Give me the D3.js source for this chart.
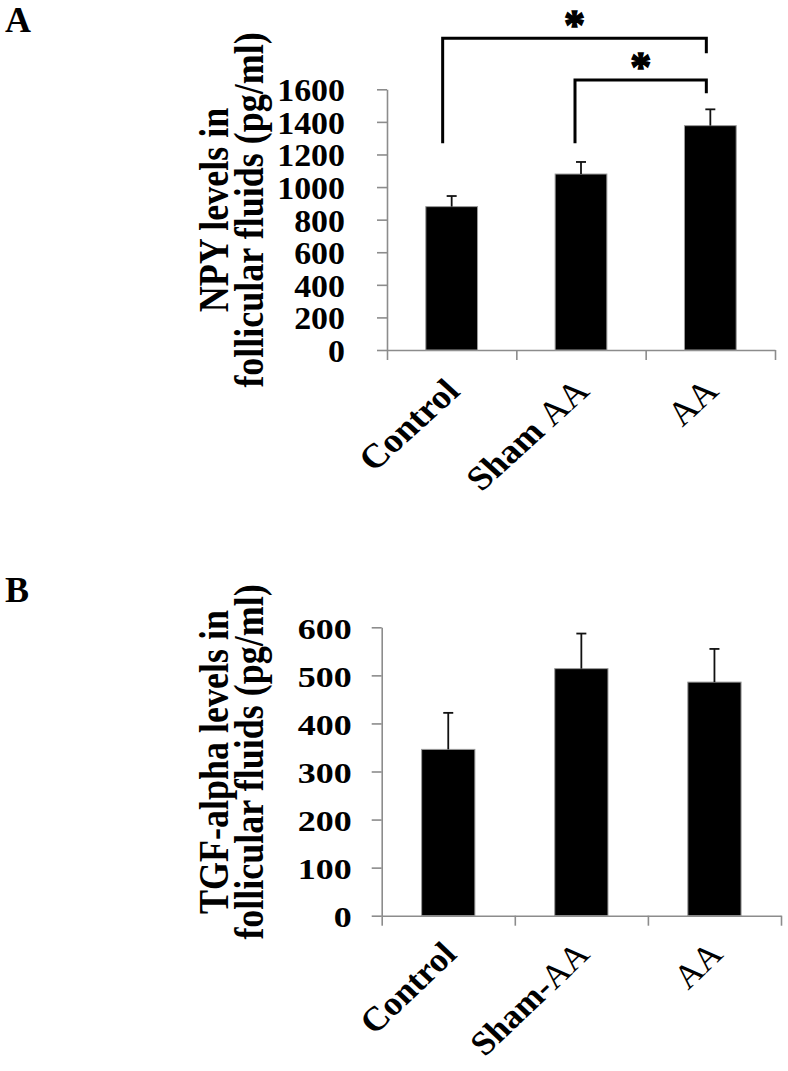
<!DOCTYPE html>
<html>
<head>
<meta charset="utf-8">
<script src="https://cdn.jsdelivr.net/npm/d3@7"></script>
<style>
  body { margin: 0; background: #fff; }
  text { font-family: "Liberation Serif", "Times New Roman", serif; font-weight: bold; fill: #000; }
</style>
</head>
<body>
<svg></svg>
<script>
// ---- data ----
const groupsA = ['Control', 'Sham AA', 'AA']
const npyMean = [880, 1080, 1377]
const npyErr = [65, 74, 100]
const npyTicks = [0, 200, 400, 600, 800, 1000, 1200, 1400, 1600]
const npyTitle = ['NPY levels in', 'follicular fluids (pg/ml)']
// significance brackets: [from group, to group, top value, left end value, right end value]
const npyBrackets = [
    [0, 2, 1913, 1269, 1821],
    [1, 2, 1657, 1269, 1575]
]

const groupsB = ['Control', 'Sham-AA', 'AA']
const tgfMean = [346, 514, 486]
const tgfErr = [76, 73, 69]
const tgfTicks = [0, 100, 200, 300, 400, 500, 600]
const tgfTitle = ['TGF-alpha levels in', 'follicular fluids (pg/ml)']

const svg = d3.select('svg').attr('width', 788).attr('height', 1071)

function drawPanel(p) {
    const g = svg.append('g')

    const x = d3.scaleBand().domain(p.groups).range([p.left, p.right]).paddingInner(0.6).paddingOuter(0.3)
    const xEdge = d3.scaleLinear().domain([0, p.groups.length]).range([p.left, p.right])
    const y = d3.scaleLinear().domain([0, p.max]).range([p.bottom, p.top])

    // y axis
    const ya = g.append('g')
        .attr('transform', `translate(${p.left},0)`)
        .call(d3.axisLeft(y).tickValues(p.ticks).tickSize(10).tickSizeOuter(0).tickFormat(d3.format('d')))
    ya.select('.domain').attr('stroke', '#8c8c8c').attr('stroke-width', 1.6)
    ya.selectAll('.tick line').attr('stroke', '#8c8c8c').attr('stroke-width', 1.6)
    ya.selectAll('.tick text')
        .attr('x', null)
        .attr('dy', '0.36em')
        .attr('text-anchor', 'end')
        .attr('font-size', p.tickFont)
        .attr('transform', `translate(${-p.labelGap},0) scale(${p.sx},1)`)

    // x axis: ticks sit on the group boundaries
    const xa = g.append('g')
        .attr('transform', `translate(0,${p.bottom})`)
        .call(d3.axisBottom(xEdge).tickValues(d3.range(p.groups.length + 1)).tickSize(10).tickSizeOuter(0).tickFormat(''))
    xa.select('.domain').attr('stroke', '#8c8c8c').attr('stroke-width', 1.6)
    xa.selectAll('.tick line').attr('stroke', '#8c8c8c').attr('stroke-width', 1.6)

    // bars
    g.selectAll('rect.bar')
        .data(p.means)
        .enter().append('rect')
        .attr('class', 'bar')
        .attr('x', (d, i) => x(p.groups[i]))
        .attr('width', x.bandwidth())
        .attr('y', d => y(d))
        .attr('height', d => y(0) - y(d))
        .attr('fill', '#000')
        .attr('stroke', '#9a9a9a')
        .attr('stroke-width', 1)

    // error bars (upper only)
    const eb = g.selectAll('g.err')
        .data(p.means)
        .enter().append('g')
        .attr('class', 'err')
        .attr('stroke', '#111')
        .attr('stroke-width', 1.8)
    eb.append('line')
        .attr('x1', (d, i) => x(p.groups[i]) + x.bandwidth() / 2)
        .attr('x2', (d, i) => x(p.groups[i]) + x.bandwidth() / 2)
        .attr('y1', d => y(d))
        .attr('y2', (d, i) => y(d + p.errs[i]))
    eb.append('line')
        .attr('x1', (d, i) => x(p.groups[i]) + x.bandwidth() / 2 - 5)
        .attr('x2', (d, i) => x(p.groups[i]) + x.bandwidth() / 2 + 5)
        .attr('y1', (d, i) => y(d + p.errs[i]))
        .attr('y2', (d, i) => y(d + p.errs[i]))

    // category labels
    p.groups.forEach((name, i) => {
        const cx = x(name) + x.bandwidth() / 2
        const t = g.append('text')
            .attr('text-anchor', 'end')
            .attr('font-size', p.catFont)
            .attr('transform', `translate(${cx + p.catDx},${p.catY}) scale(${p.catSx},1) rotate(-45)`)
        const parts = name.split(/(AA)/).filter(s => s.length)
        parts.forEach(s => {
            t.append('tspan').text(s).attr('font-weight', s === 'AA' ? 'normal' : 'bold')
        })
    })

    // y title
    const tg = g.append('g')
        .attr('transform', `translate(${p.titleX},${p.titleY}) scale(${p.titleSx},1) rotate(-90)`)
    p.title.forEach((line, i) => {
        tg.append('text')
            .attr('text-anchor', 'middle')
            .attr('font-size', p.titleFont)
            .attr('y', i * p.titleGap)
            .text(line)
    })

    // panel letter
    g.append('text')
        .attr('x', 5)
        .attr('y', p.letterY)
        .attr('font-size', 36)
        .text(p.letter)

    // significance brackets
    if (p.brackets) {
        p.brackets.forEach(b => {
            const xl = x(p.groups[b[0]]) + x.bandwidth() / 2 - (b[0] === 0 ? 9 : 6)
            const xr = x(p.groups[b[1]]) + x.bandwidth() / 2 - 4
            g.append('path')
                .attr('d', `M${xl},${y(b[3])}V${y(b[2])}H${xr}V${y(b[4])}`)
                .attr('fill', 'none')
                .attr('stroke', '#000')
                .attr('stroke-width', 3)
            g.append('text')
                .attr('x', (xl + xr) / 2)
                .attr('y', y(b[2]) + 0.5)
                .attr('text-anchor', 'middle')
                .attr('font-family', '"Liberation Sans", Arial, sans-serif')
                .attr('font-size', 42)
                .attr('stroke', '#000')
                .attr('stroke-width', 1.4)
                .text('*')
        })
    }
}

drawPanel({
    letter: 'A', letterY: 32,
    groups: groupsA, means: npyMean, errs: npyErr, ticks: npyTicks, max: 1600,
    left: 387, right: 775, top: 89.3, bottom: 350,
    tickFont: 32, labelGap: 42, sx: 1.06,
    catFont: 34, catSx: 1.1, catDx: 10, catY: 393,
    title: npyTitle, titleX: 228, titleY: 210, titleSx: 1.18, titleFont: 36, titleGap: 30,
    brackets: npyBrackets
})

drawPanel({
    letter: 'B', letterY: 602,
    groups: groupsB, means: tgfMean, errs: tgfErr, ticks: tgfTicks, max: 600,
    left: 381.7, right: 781, top: 627.3, bottom: 915.7,
    tickFont: 30, labelGap: 30, sx: 1.2,
    catFont: 34, catSx: 1.05, catDx: 10, catY: 956,
    title: tgfTitle, titleX: 228, titleY: 762, titleSx: 1.18, titleFont: 36, titleGap: 30
})
</script>
</body>
</html>
